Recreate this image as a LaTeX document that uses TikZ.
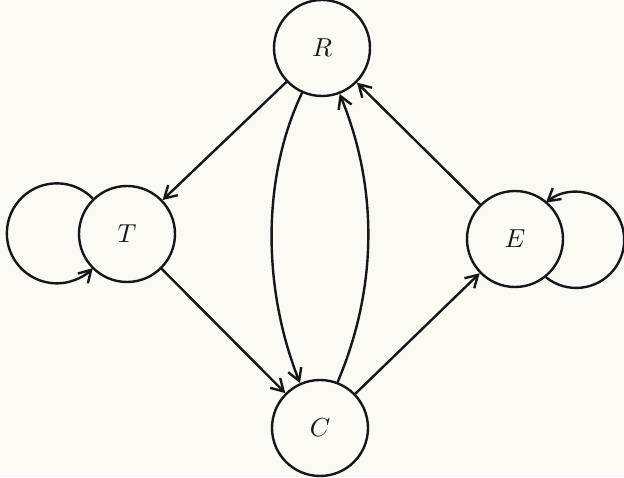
\documentclass[tikz,border=0pt]{standalone}
\usepackage{graphicx}
\usetikzlibrary{arrows.meta}
\definecolor{ink}{HTML}{161616}
\definecolor{paper}{HTML}{FAFAF3}
\newcommand{\stlabel}[1]{\scalebox{2.6}{$#1$}}
\begin{document}
\begin{tikzpicture}[x=1pt,y=1pt,
  st/.style={circle, draw=ink, text=ink, line width=2.4pt, minimum size=96pt, inner sep=0pt},
  edge/.style={draw=ink, line width=2.4pt, -{Straight Barb[length=12pt,width=14pt]}}]
\fill[paper] (0,0) rectangle (624,477);
\useasboundingbox (0,0) rectangle (624,477);
\node[st] (R) at (322,429) {\stlabel{R}};
\node[st] (T) at (127,243) {\stlabel{T}};
\node[st] (E) at (515,238) {\stlabel{E}};
\node[st] (C) at (320,49) {\stlabel{C}};
\draw[edge] (R) -- (T);
\draw[edge] (T) -- (C);
\draw[edge] (C) -- (E);
\draw[edge] (E) -- (R);
\draw[edge] (R.246) .. controls (262,300) and (262,190) .. (C.114);
\draw[edge] (C.69) .. controls (378,190) and (378,290) .. (R.291);
\draw[edge] (T.134) arc[start angle=44, end angle=316, radius=50];
\draw[edge] (E.-51) arc[start angle=231, end angle=489, radius=48];
\end{tikzpicture}
\end{document}
